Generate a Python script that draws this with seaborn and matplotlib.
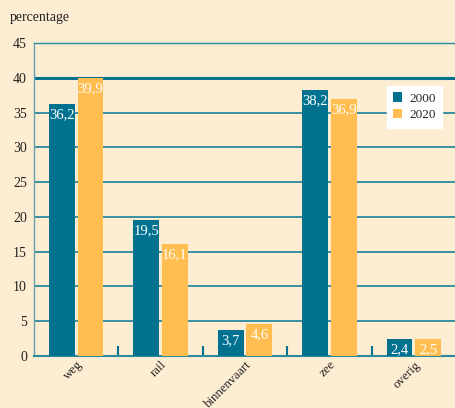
import matplotlib
matplotlib.use("Agg")
import matplotlib.pyplot as plt
import seaborn as sns
import pandas as pd

categories = ["weg", "rail", "binnenvaart", "zee", "overig"]
years = ["2000", "2020"]
values_2000 = [36.2, 19.5, 3.7, 38.2, 2.4]
values_2020 = [39.9, 16.1, 4.6, 36.9, 2.5]
yticks = [0, 5, 10, 15, 20, 25, 30, 35, 40, 45]

teal = "#00728F"
orange = "#FFBE4F"
bg = "#FDEDD3"
grid_c = "#2B8A9C"

df = pd.DataFrame({
    "cat": categories * 2,
    "year": [years[0]] * len(categories) + [years[1]] * len(categories),
    "val": values_2000 + values_2020,
})

sns.set_theme(style="white")
plt.rcParams["font.family"] = ["Liberation Serif", "DejaVu Serif"]

fig = plt.figure(figsize=(4.56, 4.08), dpi=100, facecolor=bg)
ax = fig.add_axes([34 / 456, 1 - 356 / 408, 422 / 456, 313 / 408])
ax.set_facecolor(bg)

sns.barplot(data=df, x="cat", y="val", hue="year", order=categories,
            hue_order=years, palette=[teal, orange], width=0.68, gap=0.1,
            saturation=1, ax=ax, zorder=3, edgecolor="none")

ax.set_ylim(0, 45)
ax.set_xlim(-0.5, len(categories) - 0.5)
ax.set_yticks(yticks)
ax.set_yticklabels([str(t) for t in yticks], fontsize=10, color="#222222")
ax.tick_params(axis="y", length=0, pad=5)

for t in yticks[1:-1]:
    if t == 40:
        ax.axhline(t, color=teal, lw=2.2, zorder=1)
    else:
        ax.axhline(t, color=grid_c, lw=1.3, zorder=1)

ax.spines["right"].set_visible(False)
ax.spines["top"].set_color(grid_c)
ax.spines["top"].set_linewidth(1.0)
ax.spines["left"].set_color("#5FA3B2")
ax.spines["left"].set_linewidth(1.0)
ax.spines["bottom"].set_color(grid_c)
ax.spines["bottom"].set_linewidth(1.5)

ax.set_xticks(range(len(categories)))
ax.set_xticklabels(categories, rotation=45, ha="right", rotation_mode="anchor",
                   fontsize=9.3, color="#222222")
ax.set_xticks([i + 0.5 for i in range(len(categories) - 1)], minor=True)
ax.tick_params(axis="x", which="major", length=0, pad=2)
ax.tick_params(axis="x", which="minor", direction="in", length=7, width=1.5,
               color=teal, bottom=True)
ax.set_xlabel("")
ax.set_ylabel("")

for cont in ax.containers:
    for p in cont.patches:
        h = p.get_height()
        ax.annotate(f"{h:.1f}".replace(".", ","),
                    (p.get_x() + p.get_width() / 2, h),
                    xytext=(0, -3), textcoords="offset points",
                    ha="center", va="top", color="white", fontsize=10.5, zorder=5)

leg = ax.legend(loc="upper right", bbox_to_anchor=(0.967, 0.863), frameon=True,
                fancybox=False, framealpha=1, facecolor="white", edgecolor="white",
                fontsize=9.5, handlelength=0.7, handleheight=0.7,
                handletextpad=0.5, labelspacing=0.3, borderpad=0.5,
                borderaxespad=0)
leg.set_zorder(6)

fig.text(10 / 456, 1 - 18 / 408, "percentage", fontsize=10, color="#222222",
         va="center", ha="left")

fig.savefig("out.png", dpi=100, facecolor=bg)
